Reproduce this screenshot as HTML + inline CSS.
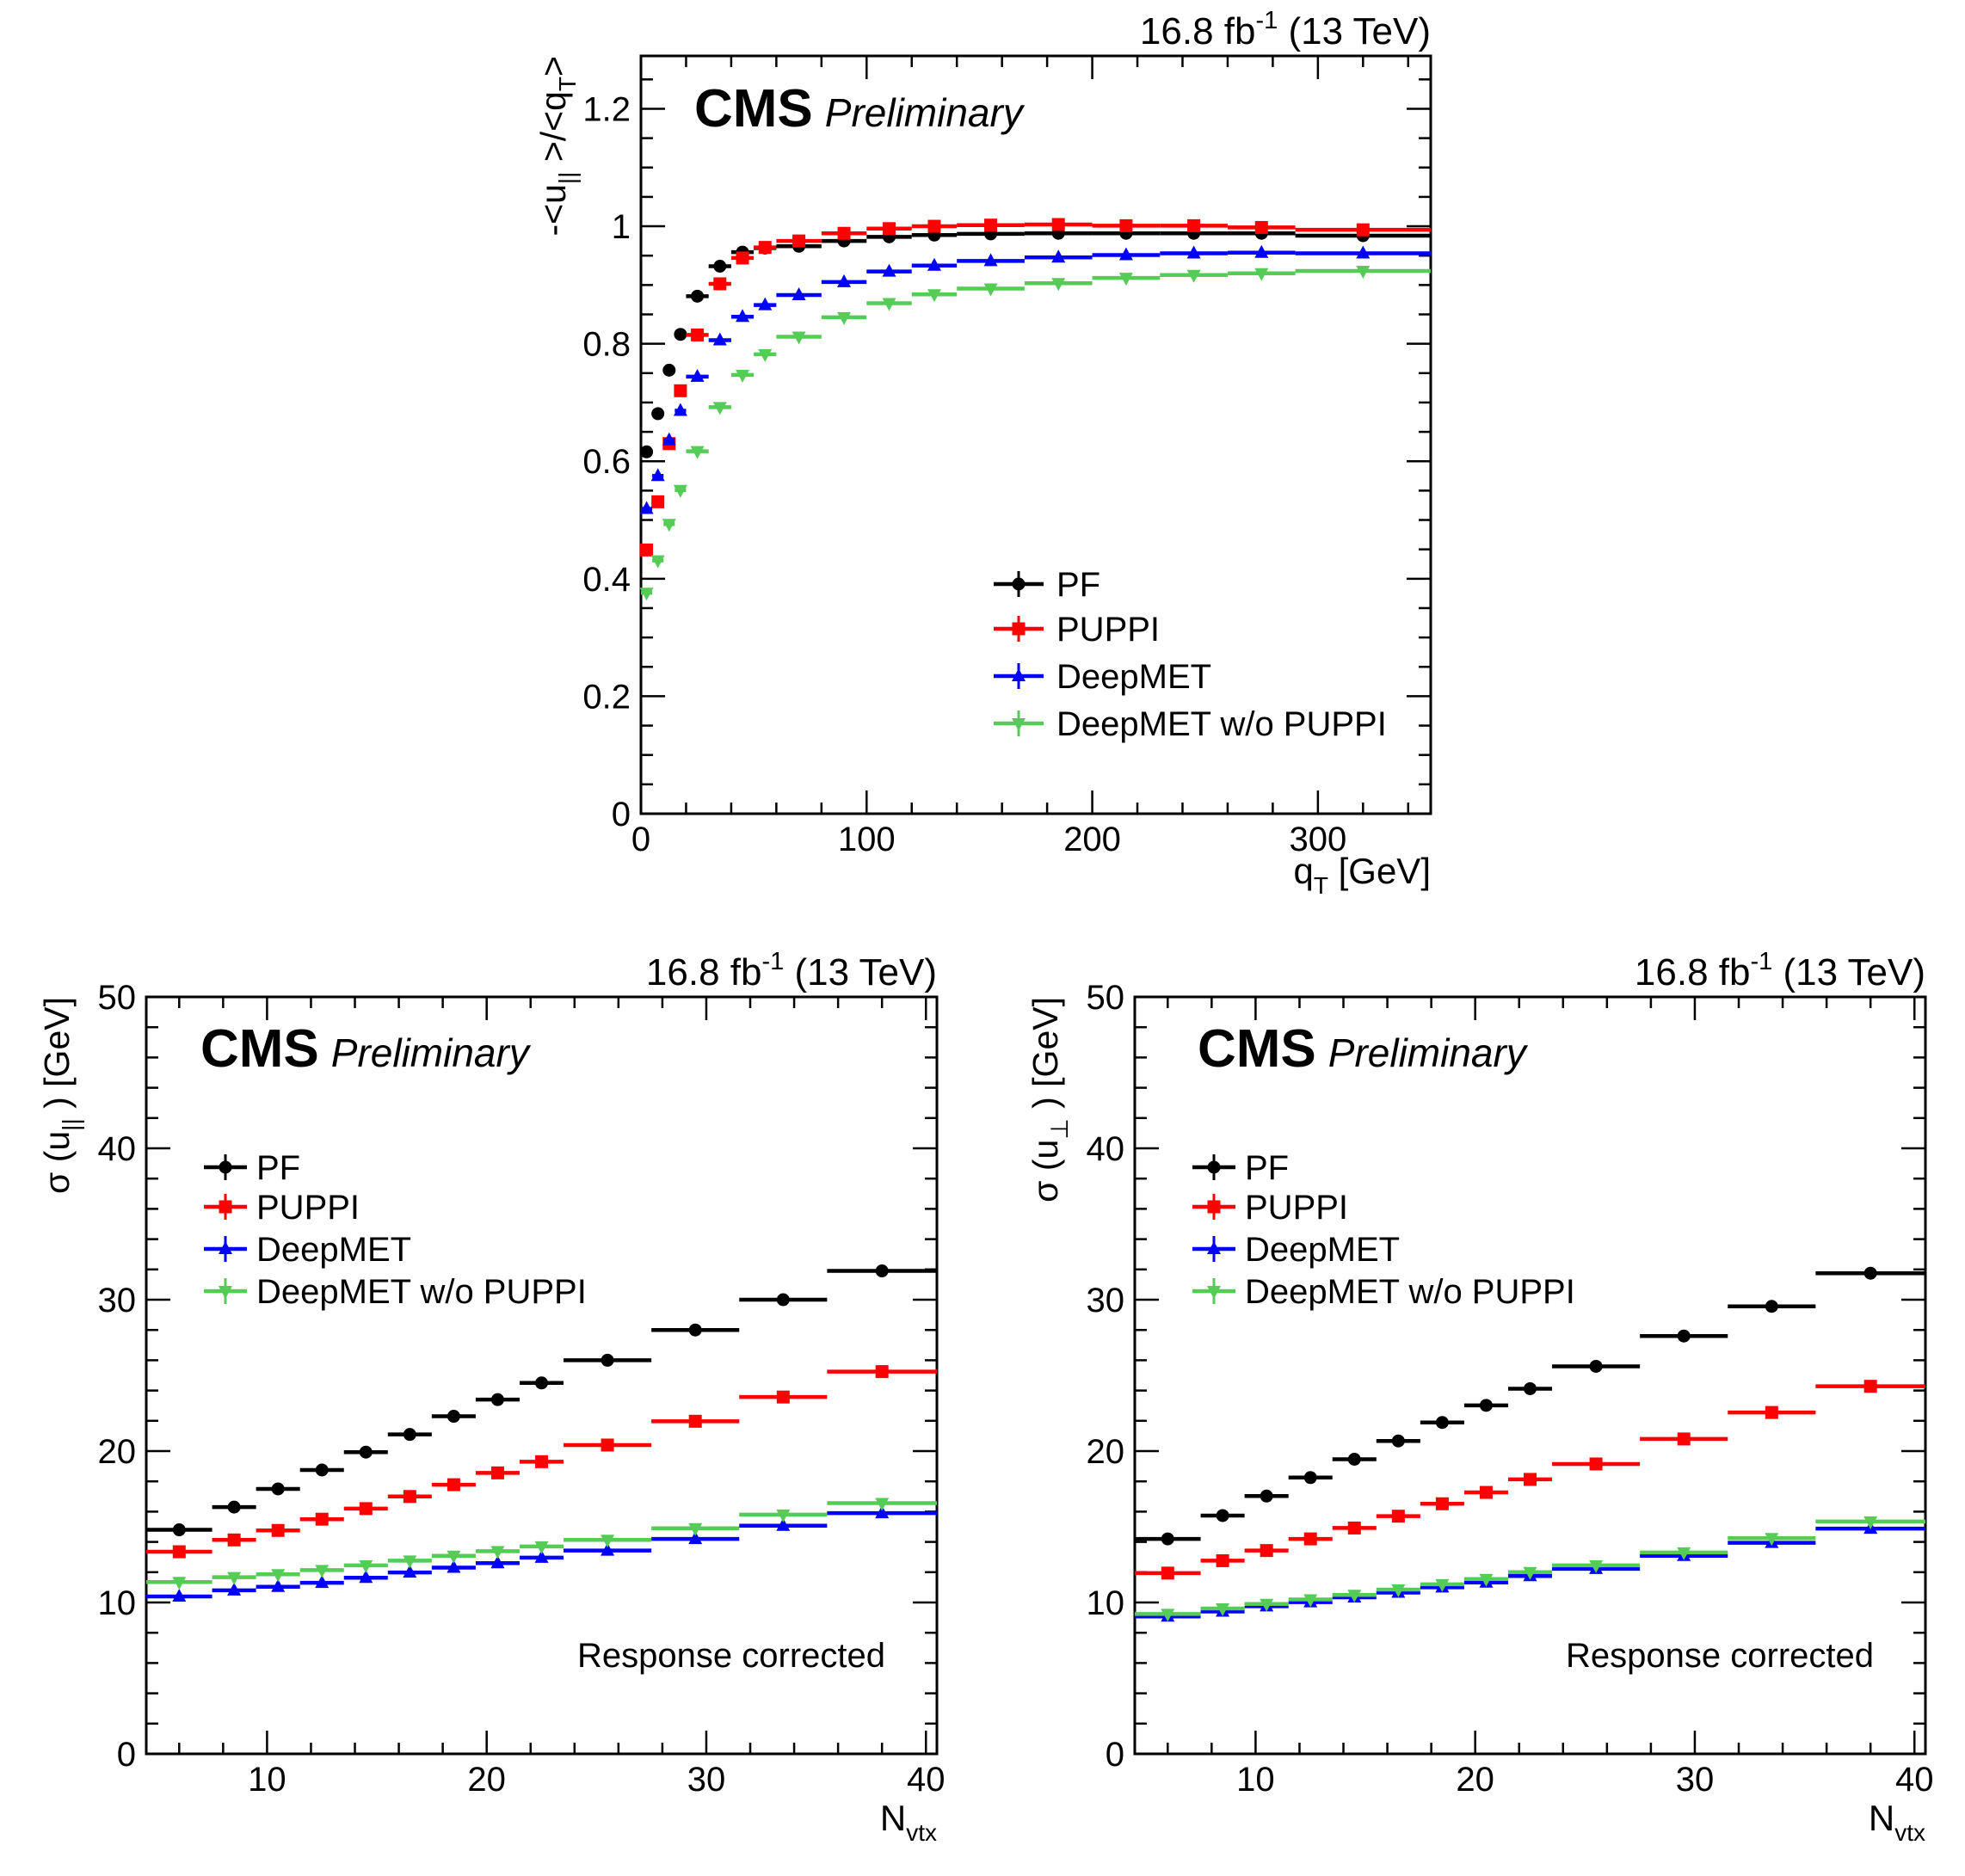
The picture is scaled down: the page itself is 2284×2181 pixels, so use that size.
<!DOCTYPE html>
<html><head><meta charset="utf-8"><style>
html,body{margin:0;padding:0;background:#fff;}
svg{display:block;font-family:"Liberation Sans",Arial,sans-serif;}
</style></head><body>
<svg id="chart" width="2284" height="2181" viewBox="0 0 2284 2181" xmlns="http://www.w3.org/2000/svg"></svg>
<script>
// ---- data ----
const seriesNames = ["PF","PUPPI","DeepMET","DeepMET w/o PUPPI"];
const topBinEdges = [0,5,10,15,20,30,40,50,60,80,100,120,140,170,200,230,260,290,350];
const topPF = [0.616,0.681,0.755,0.816,0.881,0.932,0.956,0.963,0.966,0.975,0.982,0.985,0.987,0.988,0.988,0.988,0.988,0.984];
const topPUPPI = [0.449,0.531,0.630,0.720,0.815,0.902,0.946,0.964,0.975,0.988,0.996,1.000,1.002,1.003,1.001,1.001,0.998,0.994];
const topDeep = [0.519,0.575,0.636,0.686,0.744,0.806,0.846,0.866,0.883,0.905,0.923,0.933,0.941,0.947,0.951,0.954,0.955,0.954];
const topDeepNoP = [0.376,0.431,0.493,0.551,0.617,0.692,0.747,0.782,0.812,0.845,0.869,0.884,0.894,0.903,0.912,0.917,0.920,0.924];
const topYTicks = [0,0.2,0.4,0.6,0.8,1,1.2];
const topYTickLabels = ["0","0.2","0.4","0.6","0.8","1","1.2"];
const topXTicks = [0,100,200,300];
const topXTickLabels = ["0","100","200","300"];

const botBinEdges = [4.5,7.5,9.5,11.5,13.5,15.5,17.5,19.5,21.5,23.5,27.5,31.5,35.5,40.5];
const parPF = [14.8,16.3,17.5,18.75,19.93,21.1,22.3,23.4,24.5,26.0,28.0,30.0,31.9];
const parPUPPI = [13.35,14.13,14.76,15.5,16.2,17.0,17.78,18.56,19.3,20.4,21.97,23.57,25.25];
const parDeep = [10.4,10.8,11.04,11.3,11.63,11.98,12.3,12.6,12.96,13.43,14.2,15.07,15.9];
const parDeepNoP = [11.35,11.67,11.86,12.14,12.45,12.76,13.08,13.39,13.7,14.13,14.9,15.8,16.56];
const perpPF = [14.2,15.74,17.03,18.25,19.46,20.67,21.89,23.02,24.12,25.6,27.6,29.56,31.75];
const perpPUPPI = [11.94,12.76,13.43,14.2,14.92,15.7,16.52,17.27,18.13,19.15,20.8,22.55,24.28];
const perpDeep = [9.08,9.4,9.75,10.02,10.34,10.65,11.0,11.32,11.75,12.22,13.08,13.94,14.88];
const perpDeepNoP = [9.24,9.6,9.9,10.2,10.5,10.85,11.2,11.55,12.0,12.45,13.3,14.25,15.35];
const botYTicks = [0,10,20,30,40,50];
const botYTickLabels = ["0","10","20","30","40","50"];
const botXTicks = [10,20,30,40];
const botXTickLabels = ["10","20","30","40"];

const COLORS = ["#000000","#ff0000","#0000ff","#55cc55"];
const MARKERS = ["circle","square","tri-up","tri-down"];
const NS = "http://www.w3.org/2000/svg";
const svg = document.getElementById("chart");

function el(tag, attrs, parent, text){
  const e = document.createElementNS(NS, tag);
  for (const k in attrs) e.setAttribute(k, attrs[k]);
  if (text !== undefined) e.textContent = text;
  (parent||svg).appendChild(e);
  return e;
}

function marker(g, type, cx, cy, color){
  let m;
  if (type==="circle") m = el("circle",{cx:cx,cy:cy,r:7.5,fill:color},g);
  else if (type==="square") m = el("rect",{x:cx-7.5,y:cy-7.5,width:15,height:15,fill:color},g);
  else if (type==="tri-up") m = el("polygon",{points:`${cx},${cy-9} ${cx-8},${cy+6} ${cx+8},${cy+6}`,fill:color},g);
  else m = el("polygon",{points:`${cx},${cy+9} ${cx-8},${cy-6} ${cx+8},${cy-6}`,fill:color},g);
  return m;
}

function drawPanel(cfg){
  const g = el("g",{});
  
  
  const {L,T,W,H,xmin,xmax,ymin,ymax} = cfg;
  const sx = v => L + (v - xmin)/(xmax - xmin)*W;
  const sy = v => T + H - (v - ymin)/(ymax - ymin)*H;
  const tg = el("g",{stroke:"#000","stroke-width":2.5},g);
  
  
  for (let i=0;;i++){
    const v = cfg.yMinorStart + i*cfg.yMinor;
    if (v > ymax + 1e-9) break;
    const major = Math.abs(v/cfg.yMajor - Math.round(v/cfg.yMajor)) < 1e-6;
    const len = major ? 28 : 14;
    const y = sy(v);
    el("line",{x1:L,y1:y,x2:L+len,y2:y},tg);
    el("line",{x1:L+W,y1:y,x2:L+W-len,y2:y},tg);
  }
  for (let i=0;;i++){
    const v = cfg.xMinorStart + i*cfg.xMinor;
    if (v > xmax + 1e-9) break;
    const major = Math.abs(v/cfg.xMajor - Math.round(v/cfg.xMajor)) < 1e-6;
    const len = major ? 27 : 13;
    const x = sx(v);
    el("line",{x1:x,y1:T+H,x2:x,y2:T+H-len},tg);
    el("line",{x1:x,y1:T,x2:x,y2:T+len},tg);
  }
  const fr = el("rect",{x:L,y:T,width:W,height:H,fill:"none",stroke:"#000","stroke-width":3},g);
  
  
  cfg.yTicks.forEach((v,i)=>{
    const t = el("text",{x:L-12,y:sy(v)+14,"font-size":40,"text-anchor":"end"},g,cfg.yTickLabels[i]);
    
    
  });
  cfg.xTicks.forEach((v,i)=>{
    const t = el("text",{x:sx(v),y:T+H+43,"font-size":40,"text-anchor":"middle"},g,cfg.xTickLabels[i]);
    
    
  });
  cfg.series.forEach((vals,si)=>{
    const sg = el("g",{},g);
    
    
    vals.forEach((v,i)=>{
      const x0 = sx(cfg.edges[i]), x1 = sx(cfg.edges[i+1]);
      const cx = (x0+x1)/2, cy = sy(v);
      const ln = el("line",{x1:x0,y1:cy,x2:x1,y2:cy,stroke:COLORS[si],"stroke-width":4.5},sg);
      
      
      const m = marker(sg, MARKERS[si], cx, cy, COLORS[si]);
      
      
    });
  });
  const lg = el("g",{},g);
  
  
  seriesNames.forEach((n,si)=>{
    const y = cfg.legY[si];
    const e = el("g",{},lg);
    
    
    el("line",{x1:cfg.legX,y1:y,x2:cfg.legX+cfg.legW,y2:y,stroke:COLORS[si],"stroke-width":4.5},e);
    el("line",{x1:cfg.legX+cfg.legW/2,y1:y-15,x2:cfg.legX+cfg.legW/2,y2:y+15,stroke:COLORS[si],"stroke-width":3},e);
    marker(e, MARKERS[si], cfg.legX+cfg.legW/2, y, COLORS[si]);
    el("text",{x:cfg.legTextX,y:y+14,"font-size":40},e,n);
  });
  const lumi = el("text",{x:L+W,y:T-14,"font-size":44,"text-anchor":"end"},g);
  
  
  lumi.innerHTML = '16.8 fb<tspan dy="-18" font-size="29">-1</tspan><tspan dy="18"> (13 TeV)</tspan>';
  const cms = el("text",{x:cfg.cmsX,y:cfg.cmsY},g);
  
  
  cms.innerHTML = '<tspan font-size="62" font-weight="bold">CMS</tspan><tspan font-size="46" font-style="italic" dx="14">Preliminary</tspan>';
  const xt = el("text",{x:L+W,y:cfg.xTitleY,"font-size":42,"text-anchor":"end"},g);
  
  
  xt.innerHTML = cfg.xTitle;
  const yt = el("text",{x:0,y:0,"font-size":41,"text-anchor":"end",transform:`translate(${cfg.yTitleX},${T}) rotate(-90)`},g);
  
  
  yt.innerHTML = cfg.yTitle;
  if (cfg.note){
    const nt = el("text",{x:cfg.note.x,y:cfg.note.y,"font-size":40,"text-anchor":"end"},g,cfg.note.text);
    
    
  }
}

drawPanel({
  name:"response-panel", L:745,T:65,W:918,H:881, xmin:0,xmax:350,ymin:0,ymax:1.29,
  yMajor:0.2,yMinor:0.05,yMinorStart:0, xMajor:100,xMinor:20,xMinorStart:0,
  yTicks:topYTicks,yTickLabels:topYTickLabels,xTicks:topXTicks,xTickLabels:topXTickLabels,
  edges:topBinEdges, series:[topPF,topPUPPI,topDeep,topDeepNoP],
  legX:1155,legW:58,legTextX:1228,legY:[679,731,786,841],
  cmsX:807,cmsY:147,
  xTitle:'q<tspan dy="12" font-size="28">T</tspan><tspan dy="-12"> [GeV]</tspan>', xTitleY:1027,
  yTitle:'-&lt;u<tspan dy="12" font-size="28">||</tspan><tspan dy="-12"> &gt;/&lt;q</tspan><tspan dy="12" font-size="28">T</tspan><tspan dy="-12">&gt;</tspan>', yTitleX:657
});
drawPanel({
  name:"resolution-parallel-panel", L:170,T:1159,W:919,H:880, xmin:4.5,xmax:40.5,ymin:0,ymax:50,
  yMajor:10,yMinor:2,yMinorStart:0, xMajor:10,xMinor:2,xMinorStart:6,
  yTicks:botYTicks,yTickLabels:botYTickLabels,xTicks:botXTicks,xTickLabels:botXTickLabels,
  edges:botBinEdges, series:[parPF,parPUPPI,parDeep,parDeepNoP],
  legX:237,legW:50,legTextX:298,legY:[1357,1403,1452,1501],
  cmsX:233,cmsY:1240,
  xTitle:'N<tspan dy="12" font-size="28">vtx</tspan>', xTitleY:2128,
  yTitle:'σ (u<tspan dy="12" font-size="28">||</tspan><tspan dy="-12"> ) [GeV]</tspan>', yTitleX:80,
  note:{x:1029,y:1938,text:"Response corrected"}
});
drawPanel({
  name:"resolution-perpendicular-panel", L:1319,T:1159,W:919,H:880, xmin:4.5,xmax:40.5,ymin:0,ymax:50,
  yMajor:10,yMinor:2,yMinorStart:0, xMajor:10,xMinor:2,xMinorStart:6,
  yTicks:botYTicks,yTickLabels:botYTickLabels,xTicks:botXTicks,xTickLabels:botXTickLabels,
  edges:botBinEdges, series:[perpPF,perpPUPPI,perpDeep,perpDeepNoP],
  legX:1386,legW:50,legTextX:1447,legY:[1357,1403,1452,1501],
  cmsX:1392,cmsY:1240,
  xTitle:'N<tspan dy="12" font-size="28">vtx</tspan>', xTitleY:2128,
  yTitle:'σ (u<tspan dy="12" font-size="28">⊥</tspan><tspan dy="-12"> ) [GeV]</tspan>', yTitleX:1229,
  note:{x:2178,y:1938,text:"Response corrected"}
});
</script>
</body></html>
